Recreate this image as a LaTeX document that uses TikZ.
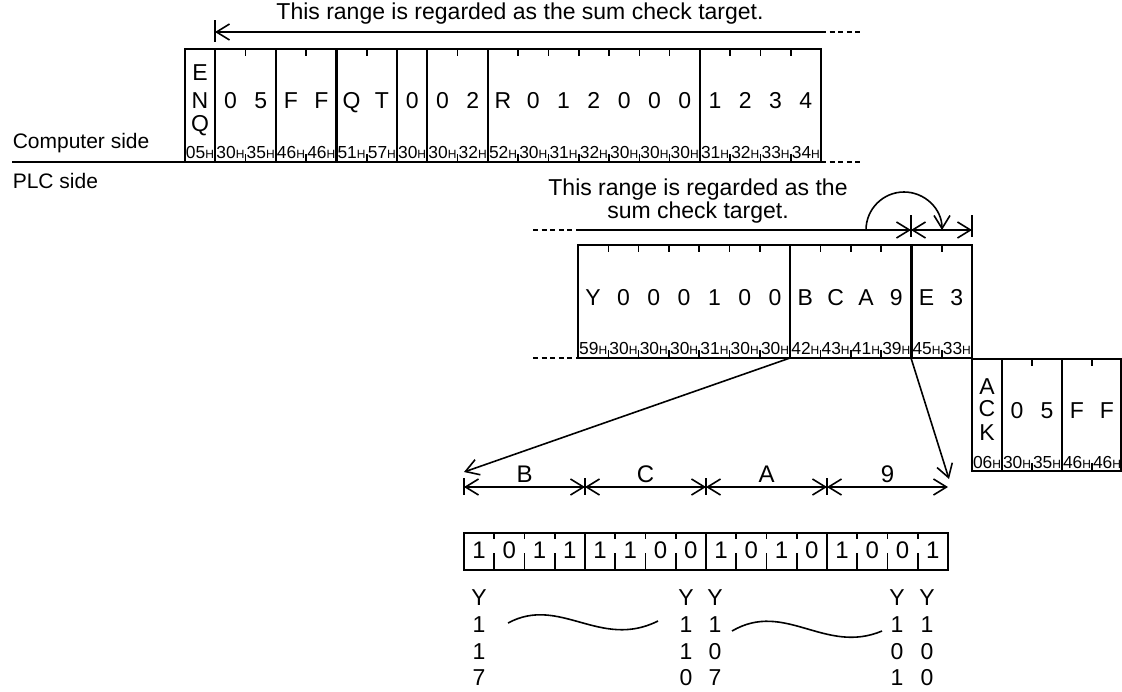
\documentclass[tikz,border=0pt]{standalone}
\usepackage{fontspec}
\setmainfont{Liberation Sans}
\usetikzlibrary{arrows.meta}

\newcommand{\hexcode}[1]{{\fontsize{8.7}{9}\selectfont #1}{\fontsize{6}{6}\selectfont H}}

\begin{document}
\begin{tikzpicture}[x=0.5pt, y=-0.5pt, >={Straight Barb[length=6.5pt,width=8pt]}, line width=0.8pt,
    frm/.style={line width=1.1pt},
    dsh/.style={dash pattern=on 2.5pt off 1.8pt},
    chr/.style={font=\fontsize{11.5}{12}\selectfont, inner sep=0pt, text height=8.2pt, text depth=0pt},
    bitc/.style={font=\fontsize{12}{12}\selectfont, inner sep=0pt, text height=8.6pt, text depth=0pt},
    hexl/.style={inner sep=0pt, text height=6.2pt, text depth=0pt},
    lbl/.style={font=\fontsize{10.5}{12}\selectfont, inner sep=0pt},
    rng/.style={font=\fontsize{11.5}{11.5}\selectfont, inner sep=0pt}]

    \useasboundingbox (0,0) rectangle (1122,691);

    % Seite Computer / PLC
    \coordinate (cs0) at (12,162);
    \coordinate (cs1) at (821,162);
    \coordinate (cs2) at (863,162);
    \draw[frm] (cs0) -- (cs1);
    \draw[dsh] (cs1) -- (cs2);
    \node[lbl, anchor=west] (cside) at (12,143) {Computer side};
    \node[lbl, anchor=west] (pside) at (12,181) {PLC side};

    % Rahmen Anfrage (ENQ ...)
    \draw[frm] (185,49) rectangle (821,162);
    \foreach \c in {1,3,5,7,8,10,17}
        \draw[frm] ({185+\c*30.286},49) -- ++(0,113);
    \foreach \c in {2,4,6,9,11,12,13,14,15,16,18,19,20} {
        \draw ({185+\c*30.286},49) -- ++(0,7);
        \draw ({185+\c*30.286},162) -- ++(0,-8);
    }
    \foreach \l/\yy [count=\i] in {E/72,N/100,Q/123}
        \node[chr] (enq\i) at (200,\yy) {\l};
    \node[hexl] (enqh) at (200,152) {\hexcode{05}};
    \foreach \ch/\hx [count=\c] in {0/30,5/35,F/46,F/46,Q/51,T/57,0/30,0/30,2/32,R/52,0/30,1/31,2/32,0/30,0/30,0/30,1/31,2/32,3/33,4/34} {
        \node[chr] (t\c) at ({185+(\c+0.5)*30.286},100) {\ch};
        \node[hexl] (th\c) at ({185+(\c+0.5)*30.286},152) {\hexcode{\hx}};
    }

    % Bereich Summenpruefung oben
    \coordinate (ra0) at (215,32);
    \coordinate (ra1) at (821,32);
    \coordinate (ra2) at (863,32);
    \draw[<-] (ra0) -- (ra1);
    \draw[dsh] (ra1) -- (ra2);
    \draw ([yshift=6pt]ra0) -- ([yshift=-5pt]ra0);
    \node[rng] (rangeA) at (520,14) {This range is regarded as the sum check target.};

    % Rahmen Antwort (Y000100 ...)
    \draw[frm] (578,245) rectangle (972,358);
    \foreach \c in {7,11}
        \draw[frm] ({578+\c*30.31},245) -- ++(0,113);
    \foreach \c in {1,2,3,4,5,6,8,9,10,12} {
        \draw ({578+\c*30.31},245) -- ++(0,7);
        \draw ({578+\c*30.31},358) -- ++(0,-8);
    }
    \foreach \ch/\hx [count=\c] in {Y/59,0/30,0/30,0/30,1/31,0/30,0/30,B/42,C/43,A/41,9/39,E/45,3/33} {
        \node[chr] (p\c) at ({578+(\c-0.5)*30.31},297) {\ch};
        \node[hexl] (ph\c) at ({578+(\c-0.5)*30.31},348) {\hexcode{\hx}};
    }
    \draw[dsh] (533,358) -- (578,358);

    % Bereich Summenpruefung unten
    \coordinate (pd0) at (533,230);
    \coordinate (pa0) at (578,230);
    \coordinate (pa1) at (911,230);
    \coordinate (pa2) at (972,230);
    \draw[dsh] (pd0) -- (pa0);
    \draw[->] (pa0) -- (pa1);
    \draw[<->] (pa1) -- (pa2);
    \draw ([yshift=7.5pt]pa1) -- ([yshift=-3.5pt]pa1);
    \draw ([yshift=7.5pt]pa2) -- ([yshift=-3.5pt]pa2);
    \coordinate (cv0) at (866,230);
    \draw[->] (cv0) arc[start angle=180, end angle=360, radius=38];
    \node[rng, align=center] (rangeB) at (698,201) {This range is regarded as the\\sum check target.};

    % Rahmen ACK
    \draw[frm] (972,359) rectangle (1121.5,471);
    \foreach \c in {1,3}
        \draw[frm] ({972+\c*30},359) -- ++(0,112);
    \foreach \c in {2,4} {
        \draw ({972+\c*30},359) -- ++(0,7);
        \draw ({972+\c*30},471) -- ++(0,-8);
    }
    \foreach \l/\yy [count=\i] in {A/386,C/408,K/432}
        \node[chr] (ack\i) at (987,\yy) {\l};
    \node[hexl] (ackh) at (987,462) {\hexcode{06}};
    \foreach \ch/\hx [count=\c] in {0/30,5/35,F/46,F/46} {
        \node[chr] (a\c) at ({972+(\c+0.5)*30},410) {\ch};
        \node[hexl] (ah\c) at ({972+(\c+0.5)*30},462) {\hexcode{\hx}};
    }

    % Pfeile zur Bitdarstellung
    \coordinate (bc) at (790,358);
    \coordinate (ec) at (911,358);
    \coordinate (dl) at (464,472);
    \coordinate (dr) at (949,479);
    \draw[->] (bc) -- (dl);
    \draw[->] (ec) -- (dr);

    % Masspfeile B C A 9
    \foreach \xx [count=\i] in {464,585,706,827,948}
        \coordinate (d\i) at (\xx,487);
    \foreach \i/\j/\l in {1/2/B,2/3/C,3/4/A,4/5/9}
        \draw[<->] (d\i) -- (d\j) node[midway, bitc, yshift=6.5pt] (dim\i) {\l};
    \foreach \i in {1,2,3,4}
        \draw ([yshift=4.5pt]d\i) -- ([yshift=-4pt]d\i);

    % Bitfeld
    \draw[frm] (464,533) rectangle (948,570);
    \foreach \c in {4,8,12}
        \draw[frm] ({464+\c*30.25},533) -- ++(0,37);
    \foreach \c in {1,2,3,5,6,7,9,10,11,13,14,15} {
        \draw ({464+\c*30.25},533) -- ++(0,6);
        \draw ({464+\c*30.25},570) -- ++(0,-17);
    }
    \foreach \b [count=\c] in {1,0,1,1,1,1,0,0,1,0,1,0,1,0,0,1}
        \node[bitc] (bit\c) at ({464+(\c-0.5)*30.25},550) {\b};

    % Ausgaenge Y
    \foreach \xx/\a/\b/\d [count=\i] in {479/1/1/7, 686/1/1/0, 715/1/0/7, 897/1/0/1, 927/1/0/0} {
        \node[chr] (yl\i) at (\xx,597) {Y};
        \node[chr] (ya\i) at (\xx,624) {\a};
        \node[chr] (yb\i) at (\xx,651) {\b};
        \node[chr] (yc\i) at (\xx,677) {\d};
    }
    \coordinate (w0) at (508,623);
    \coordinate (w1) at (658,621);
    \coordinate (w2) at (732,631);
    \coordinate (w3) at (882,631);
    \draw (w0) .. controls (560,595) and (600,650) .. (w1);
    \draw (w2) .. controls (785,600) and (825,655) .. (w3);
\end{tikzpicture}
\end{document}
